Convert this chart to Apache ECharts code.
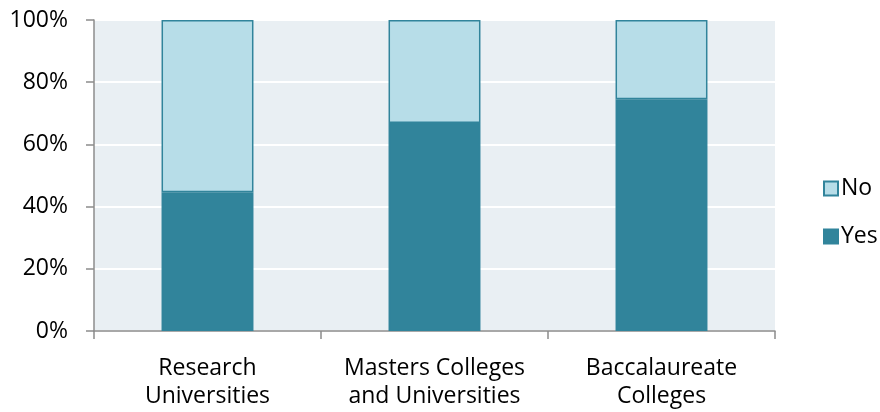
<!DOCTYPE html>
<html>
<head>
<meta charset="utf-8">
<script src="https://cdn.jsdelivr.net/npm/echarts@6/dist/echarts.min.js"></script>
<style>html,body{margin:0;padding:0;background:#fff;}#c{width:880px;height:412px;}</style>
</head>
<body>
<div id="c"></div>
<script>
var categories = ['Research\nUniversities', 'Masters Colleges\nand Universities', 'Baccalaureate\nColleges'];
var yesValues = [44.6, 66.9, 74.5];
var noValues = [55.4, 33.1, 25.5];
var seriesNames = ['Yes', 'No'];

var chart = echarts.init(document.getElementById('c'));
var font = 'Open Sans';
chart.setOption({
  animation: false,
  textStyle: {fontFamily: font},
  grid: {left: 94, right: 105, top: 20, bottom: 81, show: true, backgroundColor: '#E9EFF3', borderWidth: 0},
  legend: {
    orient: 'vertical', left: 818, top: 172, data: ['No', 'Yes'], icon: 'rect',
    itemWidth: 14, itemHeight: 14, itemGap: 25,
    textStyle: {fontFamily: font, fontSize: 23, color: '#000', padding: [0, 0, 0, -2]}
  },
  xAxis: {
    type: 'category', data: categories,
    axisLine: {show: true, lineStyle: {color: '#8C8C8C', width: 1.5}},
    axisTick: {show: true, length: 8, alignWithLabel: false, lineStyle: {color: '#8C8C8C', width: 1.5}},
    axisLabel: {fontFamily: font, fontSize: 23, color: '#000', lineHeight: 28, margin: 23, interval: 0},
    splitLine: {show: false}
  },
  yAxis: {
    type: 'value', min: 0, max: 100, interval: 20,
    axisLine: {show: true, lineStyle: {color: '#8C8C8C', width: 1.5}},
    axisTick: {show: true, length: 8, lineStyle: {color: '#8C8C8C', width: 1.5}},
    axisLabel: {fontFamily: font, fontSize: 23, color: '#000', margin: 26, formatter: '{value}%'},
    splitLine: {show: true, lineStyle: {color: '#FFFFFF', width: 2}}
  },
  series: [
    {name: seriesNames[0], type: 'bar', stack: 's', data: yesValues, barWidth: '40.5%',
     itemStyle: {color: '#31849B', borderColor: '#31849B', borderWidth: 1.5}},
    {name: seriesNames[1], type: 'bar', stack: 's', data: noValues, barWidth: '40.5%',
     itemStyle: {color: '#B7DDE8', borderColor: '#31849B', borderWidth: 1.5}}
  ]
});
</script>
</body>
</html>
